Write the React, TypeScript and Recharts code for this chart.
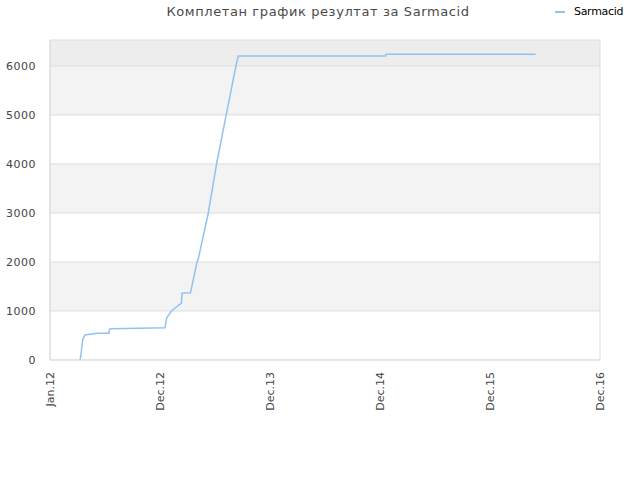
import { LineChart, Line, XAxis, YAxis, ReferenceArea, ReferenceLine } from 'recharts'

// x is measured in tick steps: 0 = Jan.12, 1 = Dec.12, ... 5 = Dec.16
const TICK_LABELS = ['Jan.12', 'Dec.12', 'Dec.13', 'Dec.14', 'Dec.15', 'Dec.16']
const X_POS = [
  0.273, 0.279, 0.288, 0.297, 0.318, 0.427, 0.536, 0.541, 0.551, 0.803, 1.045,
  1.061, 1.106, 1.195, 1.2, 1.277, 1.334, 1.349, 1.439, 1.515, 1.6, 1.695,
  1.712, 3.05, 3.055, 4.415,
]
const SCORES = [
  0, 67, 239, 408, 510, 545, 545, 626, 640, 646, 660,
  860, 1006, 1160, 1365, 1370, 1973, 2075, 3000, 4010, 4980, 6050,
  6204, 6204, 6239, 6239,
]
const Y_TICKS = [0, 1000, 2000, 3000, 4000, 5000, 6000]
const BANDS = [[1000, 2000], [3000, 4000], [5000, 6000]]

const data = X_POS.map((x, i) => ({ x, score: SCORES[i] }))

const font = '"DejaVu Sans", sans-serif'

function XTick({ x, y, payload }: any) {
  return (
    <text
      transform={`translate(${x + 4},${y + 4}) rotate(-90)`}
      textAnchor="end"
      fontSize={11}
      fill="#444"
      fontFamily={font}
    >
      {TICK_LABELS[payload.value]}
    </text>
  )
}

export default function App() {
  return (
    <div style={{ position: 'absolute', left: 0, top: 0, width: 640, height: 480, background: '#fff', fontFamily: font }}>
      <div style={{ position: 'absolute', top: 4, left: 0, width: 636, textAlign: 'center', fontSize: 13, color: '#4a4a4a', letterSpacing: 0.6 }}>
        Комплетан график резултат за Sarmacid
      </div>
      <div style={{ position: 'absolute', top: 5, left: 555, display: 'flex', alignItems: 'center', fontSize: 11, color: '#000' }}>
        <span style={{ display: 'inline-block', width: 10, height: 2, background: '#92c2f2', marginRight: 9 }} />
        <span style={{ letterSpacing: -0.3 }}>Sarmacid</span>
      </div>
      <LineChart width={640} height={480} data={data} margin={{ top: 40, right: 40, bottom: 70, left: 8 }}>
        <XAxis
          dataKey="x"
          type="number"
          domain={[0, 5]}
          ticks={[0, 1, 2, 3, 4, 5]}
          interval={0}
          tick={<XTick />}
          tickLine={false}
          axisLine={{ stroke: '#ddd' }}
          height={50}
        />
        <YAxis
          type="number"
          domain={[0, 6530]}
          ticks={Y_TICKS}
          width={42}
          tickLine={false}
          axisLine={{ stroke: '#ddd' }}
          tick={{ fontSize: 11, fill: '#444', fontFamily: font, letterSpacing: 0.5 }}
          tickMargin={8}
          allowDataOverflow
        />
        <ReferenceArea y1={6000} y2={6530} fill="#ededed" fillOpacity={1} stroke="none" />
        {BANDS.map(([a, b]) => (
          <ReferenceArea key={a} y1={a} y2={b} fill="#f3f3f3" fillOpacity={1} stroke="none" />
        ))}
        {Y_TICKS.slice(1).map(v => (
          <ReferenceLine key={v} y={v} stroke="#dedede" />
        ))}
        <ReferenceArea x1={0} x2={5} y1={0} y2={6530} fill="none" stroke="#ddd" />
        <Line
          dataKey="score"
          type="linear"
          stroke="#92c2f2"
          strokeWidth={1.5}
          dot={false}
          isAnimationActive={false}
        />
      </LineChart>
    </div>
  )
}
